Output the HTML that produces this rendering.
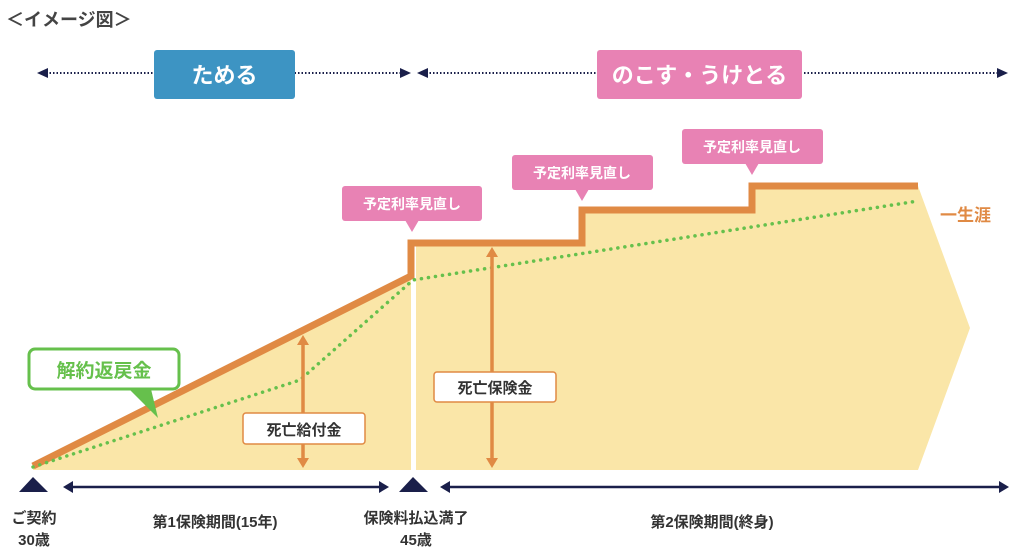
<!DOCTYPE html>
<html><head><meta charset="utf-8"><style>
html,body{margin:0;padding:0;background:#fff;}
svg{display:block;}
text{font-family:"Liberation Sans","Noto Sans CJK JP",sans-serif;font-weight:bold;}
</style></head><body>
<svg width="1024" height="556" viewBox="0 0 1024 556" xmlns="http://www.w3.org/2000/svg">
<text x="6" y="26" font-size="18" fill="#444">＜イメージ図＞</text>

<g stroke="#1a1f4a" stroke-width="2" stroke-dasharray="1.5,2">
<line x1="46" y1="73" x2="402" y2="73"/>
<line x1="426" y1="73" x2="998" y2="73"/>
</g>
<g fill="#1a1f4a">
<polygon points="37,73 48,68 48,78"/>
<polygon points="411,73 400,68 400,78"/>
<polygon points="417,73 428,68 428,78"/>
<polygon points="1008,73 997,68 997,78"/>
</g>
<rect x="154" y="50" width="141" height="49" rx="3" fill="#3d94c3"/>
<text x="224.5" y="83" font-size="22" fill="#fff" text-anchor="middle">ためる</text>
<rect x="597" y="50" width="205" height="49" rx="3" fill="#e882b4"/>
<text x="699.5" y="83" font-size="22" fill="#fff" text-anchor="middle">のこす・うけとる</text>

<polygon points="33,470 33,466 411,276 411,470" fill="#fae6a8"/>
<polygon points="416,470 416,243 582,243 582,210 752,210 752,186 918,186 970,328 918,470" fill="#fae6a8"/>

<polyline points="33,466 411,276 411,243 582,243 582,210 752,210 752,186 918,186" fill="none" stroke="#e08a44" stroke-width="7"/>

<polyline points="33,467 300,380 413,280 918,201" fill="none" stroke="#66c04c" stroke-width="3.5" stroke-linecap="round" stroke-dasharray="0.1,7"/>

<g stroke="#e08a44" stroke-width="3.5">
<line x1="303" y1="342" x2="303" y2="462"/>
<line x1="492" y1="254" x2="492" y2="462"/>
</g>
<g fill="#e08a44">
<polygon points="303,335 297,345 309,345"/>
<polygon points="303,468 297,458 309,458"/>
<polygon points="492,247 486,257 498,257"/>
<polygon points="492,468 486,458 498,458"/>
</g>
<rect x="243" y="413" width="122" height="31" rx="3" fill="#fff" stroke="#e08a44" stroke-width="1.5"/>
<text x="304" y="435" font-size="15" fill="#333" text-anchor="middle" font-weight="normal">死亡給付金</text>
<rect x="434" y="372" width="122" height="30" rx="3" fill="#fff" stroke="#e08a44" stroke-width="1.5"/>
<text x="495" y="393" font-size="15" fill="#333" text-anchor="middle" font-weight="normal">死亡保険金</text>

<polygon points="125,385 150,385 158,418" fill="#66c04c"/>
<rect x="29" y="349" width="150" height="40" rx="6" fill="#fff" stroke="#66c04c" stroke-width="3"/>
<text x="104" y="377" font-size="19" fill="#66c04c" text-anchor="middle">解約返戻金</text>

<g fill="#e882b4">
<rect x="342" y="186" width="140" height="35" rx="3"/><polygon points="405,220 419,220 412,232"/>
<rect x="512" y="155" width="141" height="35" rx="3"/><polygon points="575,189 589,189 582,201"/>
<rect x="682" y="129" width="141" height="35" rx="3"/><polygon points="745,163 759,163 752,175"/>
</g>
<g font-size="14" fill="#fff" text-anchor="middle" font-weight="normal">
<text x="412" y="209">予定利率見直し</text>
<text x="582" y="178">予定利率見直し</text>
<text x="752" y="152">予定利率見直し</text>
</g>
<text x="940" y="221" font-size="17" fill="#e08a44">一生涯</text>

<g fill="#1a1f4a">
<polygon points="33,477 19,492 48,492"/>
<polygon points="413,477 399,492 428,492"/>
<polygon points="63,487 73,481 73,493"/>
<polygon points="389,487 379,481 379,493"/>
<polygon points="440,487 450,481 450,493"/>
<polygon points="1009,487 999,481 999,493"/>
</g>
<g stroke="#1a1f4a" stroke-width="2.5">
<line x1="70" y1="487" x2="382" y2="487"/>
<line x1="447" y1="487" x2="1002" y2="487"/>
</g>
<g font-size="15" fill="#333" text-anchor="middle">
<text x="34" y="523">ご契約</text>
<text x="34" y="545">30歳</text>
<text x="215" y="527">第1保険期間(15年)</text>
<text x="416" y="523">保険料払込満了</text>
<text x="416" y="545">45歳</text>
<text x="712" y="527">第2保険期間(終身)</text>
</g>
</svg>
</body></html>
